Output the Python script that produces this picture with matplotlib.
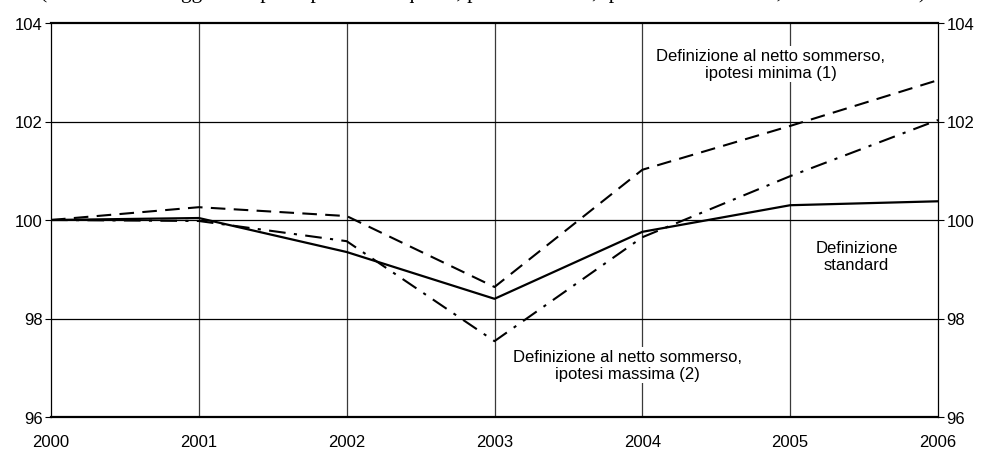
import matplotlib
matplotlib.use("Agg")
import matplotlib.pyplot as plt

years = [2000, 2001, 2002, 2003, 2004, 2005, 2006]
standard = [100.0, 100.04, 99.35, 98.40, 99.76, 100.30, 100.38]
netto_minima = [100.0, 100.26, 100.08, 98.64, 101.02, 101.91, 102.84]
netto_massima = [100.0, 99.98, 99.57, 97.54, 99.65, 100.89, 102.03]
yticks = [96, 98, 100, 102, 104]

plt.rcParams['font.family'] = ['Liberation Sans', 'DejaVu Sans']

fig = plt.figure(figsize=(9.81, 4.52), dpi=100)
ax = fig.add_axes([51/981, 1-418/452, (938-51)/981, (418-24)/452])

ax.set_xlim(2000, 2006)
ax.set_ylim(96, 104)

for x in years[1:-1]:
    ax.axvline(x, color='#3a3a3a', lw=0.9, zorder=1)
for y in [98, 100, 102]:
    ax.axhline(y, color='black', lw=0.9, zorder=1)

ax.plot(years, netto_minima, color='black', lw=1.5, ls=(0, (7, 4)), zorder=3)
ax.plot(years, netto_massima, color='black', lw=1.5, ls=(0, (8, 4, 1.5, 4)), zorder=3)
ax.plot(years, standard, color='black', lw=1.6, zorder=4)

ax.set_xticks(years)
ax.set_xticklabels([str(y) for y in years], fontsize=12)
ax.set_yticks(yticks)
ax.set_yticklabels([str(y) for y in yticks], fontsize=12)
ax.tick_params(axis='x', length=0, pad=12)
ax.tick_params(axis='y', length=4, width=0.8, pad=2, right=True, labelright=True, left=True)

for s in ['left', 'right']:
    ax.spines[s].set_linewidth(0.9)
for s in ['top', 'bottom']:
    ax.spines[s].set_linewidth(1.6)

bbox = dict(facecolor='white', edgecolor='none', pad=1.5)
ax.text(2004.87, 103.17, "Definizione al netto sommerso,\nipotesi minima (1)",
        ha='center', va='center', fontsize=12, linespacing=1.2, bbox=bbox, zorder=5)
ax.text(2005.45, 99.27, "Definizione\nstandard",
        ha='center', va='center', fontsize=12, linespacing=1.2, bbox=bbox, zorder=5)
ax.text(2003.90, 97.05, "Definizione al netto sommerso,\nipotesi massima (2)",
        ha='center', va='center', fontsize=12, linespacing=1.2, bbox=bbox, zorder=5)

fig.text(40/981, 1 + 1.5/452,
         "(numeri indice aggiustati per il potere d'acquisto, prezzi costanti, ipotesi di sommerso, base 2000=100)",
         family='Liberation Serif', fontsize=15.5, ha='left', va='baseline')

fig.savefig("out.png", dpi=100)
